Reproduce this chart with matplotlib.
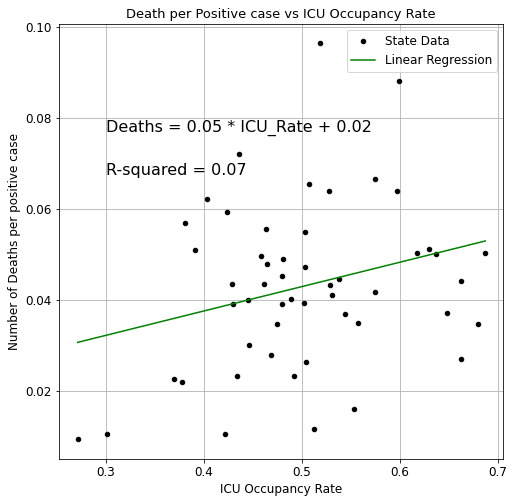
import numpy as np
import matplotlib
matplotlib.use("Agg")
import matplotlib.pyplot as plt

# ICU occupancy rate per state and deaths per positive case
icu_rate = [0.271, 0.301, 0.369, 0.377, 0.381, 0.391, 0.403, 0.421, 0.423, 0.428,
            0.430, 0.434, 0.436, 0.445, 0.446, 0.458, 0.461, 0.463, 0.464, 0.468,
            0.474, 0.480, 0.480, 0.481, 0.489, 0.492, 0.502, 0.503, 0.503, 0.504,
            0.507, 0.512, 0.518, 0.527, 0.528, 0.531, 0.538, 0.544, 0.553, 0.557,
            0.574, 0.574, 0.597, 0.599, 0.617, 0.629, 0.637, 0.648, 0.662, 0.662,
            0.680, 0.687]
deaths = [0.0095, 0.0104, 0.0225, 0.0220, 0.0570, 0.0510, 0.0622, 0.0106, 0.0593, 0.0436,
          0.0390, 0.0233, 0.0721, 0.0400, 0.0300, 0.0497, 0.0434, 0.0555, 0.0480, 0.0278,
          0.0348, 0.0392, 0.0452, 0.0489, 0.0402, 0.0233, 0.0394, 0.0550, 0.0472, 0.0263,
          0.0655, 0.0115, 0.0965, 0.0639, 0.0432, 0.0410, 0.0445, 0.0370, 0.0160, 0.0349,
          0.0667, 0.0418, 0.0639, 0.0882, 0.0503, 0.0512, 0.0501, 0.0372, 0.0441, 0.0270,
          0.0347, 0.0504]

x = np.array(icu_rate)
y = np.array(deaths)
slope, intercept = np.polyfit(x, y, 1)

fig = plt.figure(figsize=(514 / 72, 503 / 72), dpi=72)
ax = fig.add_axes([59 / 514, 1 - 459 / 503, 444 / 514, 435 / 503])
ax.plot(x, y, 'k.', markersize=9, label='State Data')
ax.plot(x, slope * x + intercept, color='green', lw=1.5, label='Linear Regression')
ax.text(0.3, 0.077, 'Deaths = 0.05 * ICU_Rate + 0.02', fontsize=16)
ax.text(0.3, 0.0675, 'R-squared = 0.07', fontsize=16)
ax.set_xlim(0.252, 0.705)
ax.set_ylim(0.005, 0.1007)
ax.set_yticks([0.02, 0.04, 0.06, 0.08, 0.10])
ax.grid(True, color='#b0b0b0')
ax.tick_params(labelsize=12)
ax.set_title('Death per Positive case vs ICU Occupancy Rate', fontsize=13)
ax.set_xlabel('ICU Occupancy Rate', fontsize=12)
ax.set_ylabel('Number of Deaths per positive case', fontsize=12)
ax.legend(loc='upper right', fontsize=12)
fig.savefig('out.png', dpi=72)
